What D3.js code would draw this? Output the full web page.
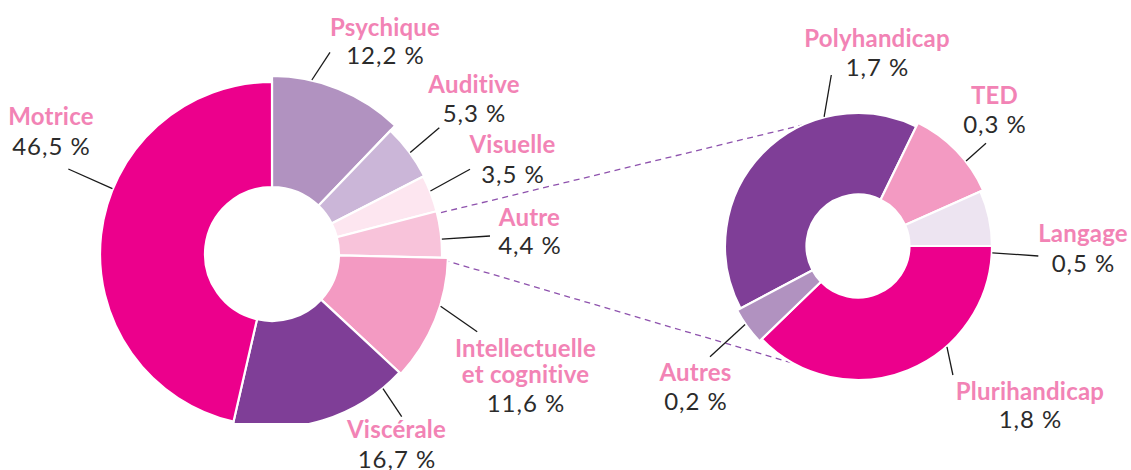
<!DOCTYPE html>
<html><head><meta charset="utf-8">
<script src="https://cdn.jsdelivr.net/npm/d3@7"></script>
<style>html,body{margin:0;padding:0;background:#fff;} svg{display:block;} text{font-variant-ligatures:none;font-feature-settings:"liga" 0;}</style>
</head><body>
<svg id="chart" width="1131" height="470"></svg>
<script>
// ---------- DATA ----------
const mainCategories = ["Psychique", "Auditive", "Visuelle", "Autre", "Intellectuelle et cognitive", "Viscérale", "Motrice"];
const mainValues = [12.2, 5.3, 3.5, 4.4, 11.6, 16.7, 46.5];
const mainValueLabels = ["12,2 %", "5,3 %", "3,5 %", "4,4 %", "11,6 %", "16,7 %", "46,5 %"];

const subCategories = ["Polyhandicap", "TED", "Langage", "Plurihandicap", "Autres"];
const subValues = [1.8, 0.5, 0.3, 1.7, 0.2];          // slice shares as drawn in the picture
const subValueLabels = ["1,7 %", "0,3 %", "0,5 %", "1,8 %", "0,2 %"];

// ---------- STYLE / LAYOUT ----------
const mainColors = ["#b192c0", "#cbb6d8", "#fde6f0", "#f8c3da", "#f39ac2", "#7f3e97", "#ec008c"];
const subColors = ["#7f3e97", "#f39ac2", "#ede4f1", "#ec008c", "#b192c0"];
const mainOuter = [178, 171, 170, 170, 176, 174, 172];
const subOuter = [133, 137, 134, 134, 137];
const L = {cx: 272, cy: 254, r0: 67, clipBottom: 423};
const R = {cx: 858, cy: 246, r0: 51.5};
const nameColor = "#f283b5", valueColor = "#2b2b2b";
const fontFamily = "Lato, 'Open Sans', sans-serif";
const nameSize = 24, valueSize = 24;

// label layout: [label centre x, name baseline, value baseline, leader angle (deg), leader end x, leader end y]
const mainLabelLayout = [
  [385, 35.7, 64, 12.9, 330, 52.3],
  [474, 93.3, 121.7, 53.7, 439.3, 127.7],
  [512.5, 153.3, 182.5, 68.3, 470, 169.3],
  [529.5, 225.7, 254, 85, 490, 236],
  [525.5, 356.7, 411.7, 107.2, 477.2, 331.7],
  [396.5, 438.3, 468, 140.5, 401.7, 416.7],
  [51, 125, 155, 292.3, 68.3, 169]
];
const subLabelLayout = [
  [877, 46.7, 76, 345.3, 831.3, 75],
  [994.5, 104, 133.3, 51.8, 986, 143.3],
  [1083, 241.7, 271.7, 92.9, 1038.3, 256],
  [1030, 400, 428.3, 138.6, 952.9, 375],
  [695.5, 381, 410, 235.2, 710, 356.7]
];

const svg = d3.select("#chart");
const rad = d => d * Math.PI / 180;
const polar = (c, a, r) => [c.cx + r * Math.sin(a), c.cy - r * Math.cos(a)];

// pies
const mainPie = d3.pie().sort(null).value(d => d).startAngle(0).endAngle(2 * Math.PI)(mainValues);
const subTotal = d3.sum(subValues);
const subStart = Math.PI / 2 - (subValues[0] + subValues[1] + subValues[2]) / subTotal * 2 * Math.PI;
const subPie = d3.pie().sort(null).value(d => d).startAngle(subStart).endAngle(subStart + 2 * Math.PI)(subValues);

// dashed connectors (under both donuts)
const autre = mainPie[3];
const connectors = [
  [polar(L, autre.startAngle + rad(0.8), mainOuter[3] + 4), polar(R, rad(335.6), 133)],
  [polar(L, autre.endAngle + rad(0.7), mainOuter[3] + 1.5), polar(R, rad(188.7), 132)]
];
svg.append("g").selectAll("line").data(connectors).join("line")
  .attr("x1", d => d[0][0]).attr("y1", d => d[0][1])
  .attr("x2", d => d[1][0]).attr("y2", d => d[1][1])
  .attr("stroke", "#8e52ad").attr("stroke-width", 1.3).attr("stroke-dasharray", "6,4.5");

// clip for main donut
svg.append("clipPath").attr("id", "clipL").append("rect")
  .attr("x", 0).attr("y", 0).attr("width", 600).attr("height", L.clipBottom);

const gLin = svg.append("g").attr("clip-path", "url(#clipL)")
  .append("g").attr("transform", `translate(${L.cx},${L.cy})`);
gLin.selectAll("path").data(mainPie).join("path")
  .attr("d", (d, i) => d3.arc().innerRadius(L.r0).outerRadius(mainOuter[i])(d))
  .attr("fill", (d, i) => mainColors[i])
  .attr("stroke", "#fff").attr("stroke-width", 2.2).attr("stroke-linejoin", "miter");

const gR = svg.append("g").attr("transform", `translate(${R.cx},${R.cy})`);
gR.selectAll("path").data(subPie).join("path")
  .attr("d", (d, i) => d3.arc().innerRadius(R.r0).outerRadius(subOuter[i])(d))
  .attr("fill", (d, i) => subColors[i])
  .attr("stroke", "#fff").attr("stroke-width", 2.2);

// leader lines
function leaders(center, outer, layout) {
  svg.append("g").selectAll("line").data(layout).join("line")
    .attr("x1", (d, i) => polar(center, rad(d[3]), outer[i] + 0.5)[0])
    .attr("y1", (d, i) => polar(center, rad(d[3]), outer[i] + 0.5)[1])
    .attr("x2", d => d[4]).attr("y2", d => d[5])
    .attr("stroke", "#1a1a1a").attr("stroke-width", 1.3);
}
leaders(L, mainOuter, mainLabelLayout);
leaders(R, subOuter, subLabelLayout);

// labels
function labels(cats, vals, layout) {
  const g = svg.append("g").attr("font-family", fontFamily).attr("text-anchor", "middle");
  cats.forEach((c, i) => {
    const [x, yName, yVal] = layout[i];
    const lines = c === "Intellectuelle et cognitive" ? ["Intellectuelle", "et cognitive"] : [c];
    lines.forEach((t, j) => {
      g.append("text").attr("x", x).attr("y", yName + j * 26.7)
        .attr("font-size", nameSize).attr("letter-spacing", 0.2)
        .attr("fill", nameColor).attr("font-weight", 700).text(t);
    });
    g.append("text").attr("x", x + 0.5).attr("y", yVal)
      .attr("font-size", valueSize).attr("letter-spacing", 1)
      .attr("fill", valueColor).attr("font-weight", 400).text(vals[i]);
  });
}
labels(mainCategories, mainValueLabels, mainLabelLayout);
labels(subCategories, subValueLabels, subLabelLayout);
</script>
</body></html>
